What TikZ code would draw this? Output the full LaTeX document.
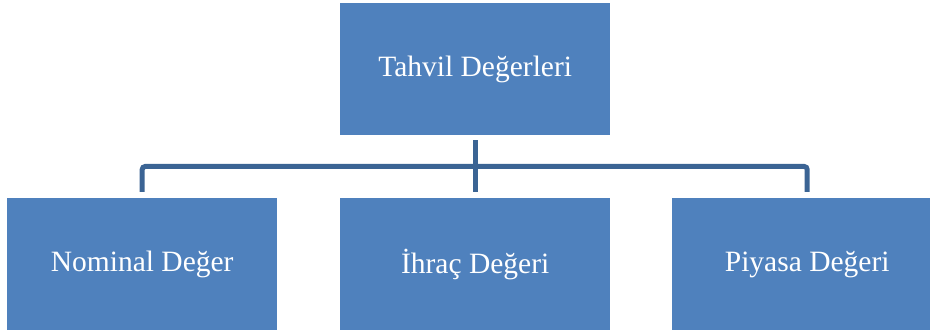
\documentclass[tikz,border=0pt]{standalone}
\usepackage{fontspec}
\setmainfont{Liberation Serif}
\definecolor{boxblue}{HTML}{4F81BD}
\definecolor{linkblue}{HTML}{3B6494}
\begin{document}
\begin{tikzpicture}[x=1pt,y=-1pt,
  unit/.style={fill=boxblue, draw=none, text=white, minimum width=270pt,
    minimum height=132pt, inner sep=0pt, font=\fontsize{29.5}{34}\selectfont},
  link/.style={draw=linkblue, line width=5pt, rounded corners=3pt}]
  \useasboundingbox (0,0) rectangle (930,336);
  \node[unit, anchor=north west] (root) at (340,3) {Tahvil Değerleri};
  \node[unit, anchor=north west] (nom) at (7,198) {Nominal Değer};
  \node[unit, anchor=north west] (ihr) at (340,198) {İhraç Değeri};
  \node[unit, anchor=north west] (piy) at (672,198) {Piyasa Değeri};
  \coordinate (bus) at (474,166.5);
  % trunk from the root down to the lower row
  \draw[link] ([yshift=-5pt]root.south) -- ([yshift=6pt]ihr.north);
  % horizontal bus with drops to the outer boxes
  \draw[link] ([yshift=6pt]nom.north) |- (bus) -| ([yshift=6pt]piy.north);
\end{tikzpicture}
\end{document}
